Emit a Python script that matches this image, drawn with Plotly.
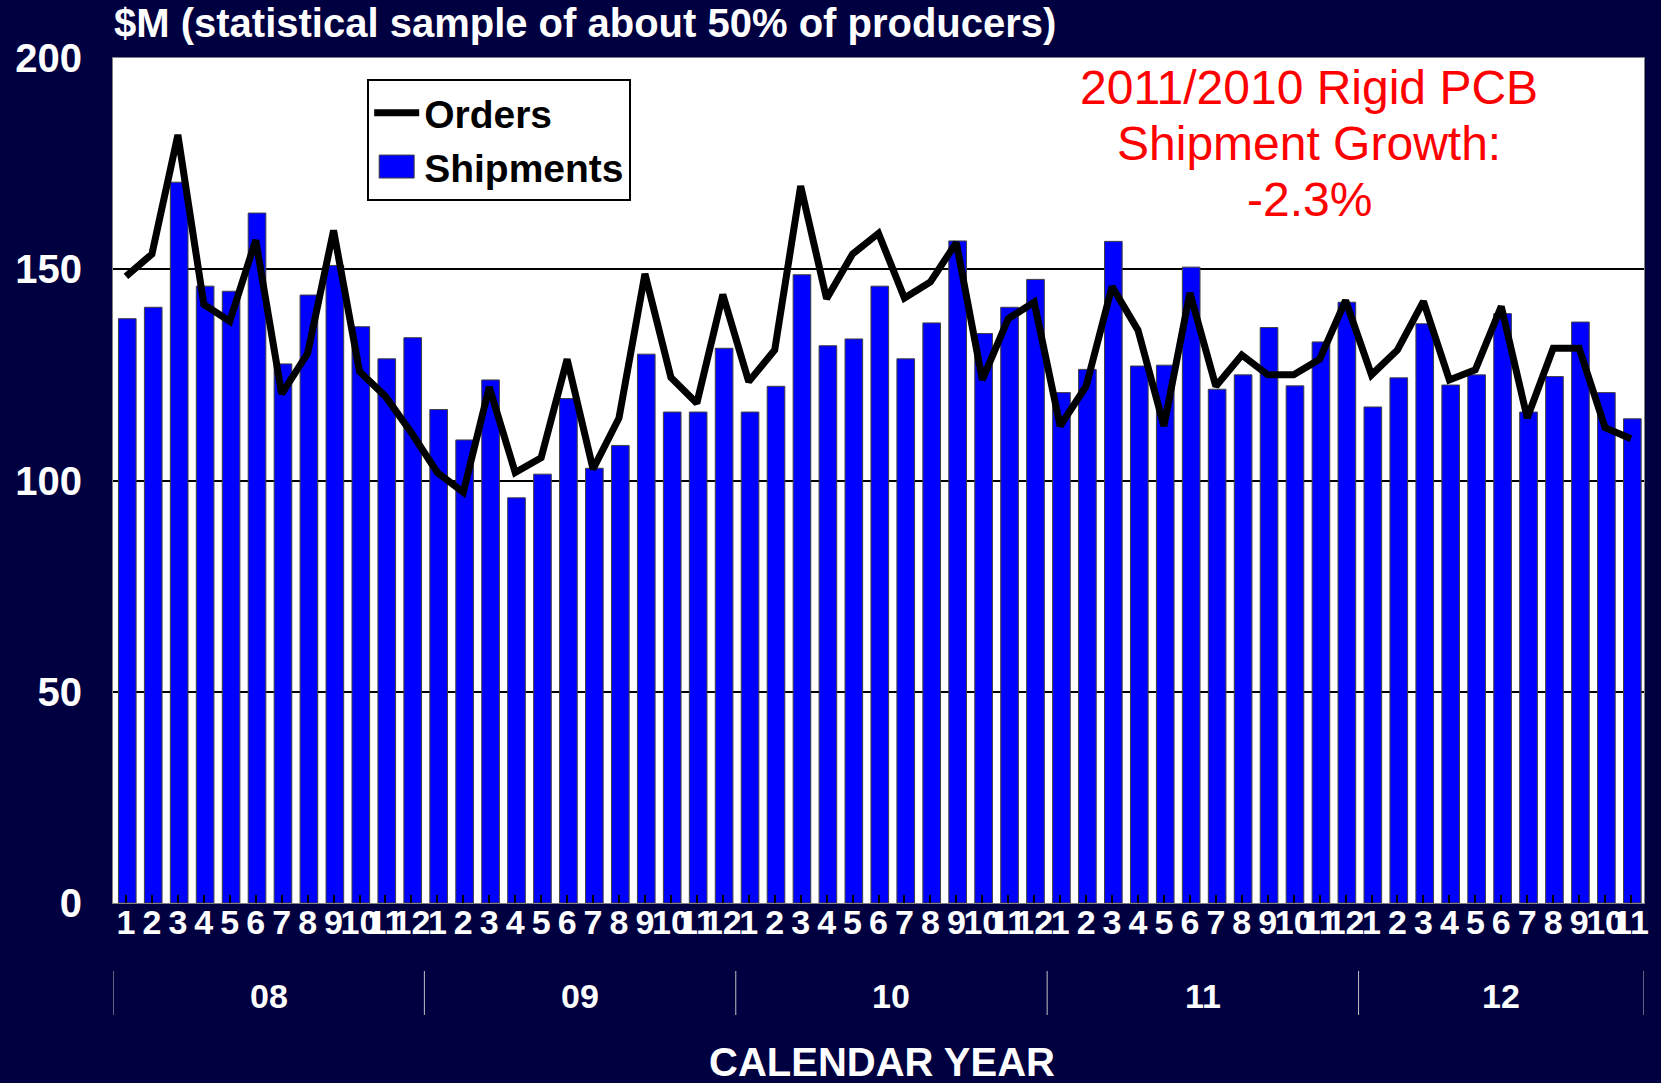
import plotly.graph_objects as go

years = ["08", "09", "10", "11", "12"]
months_per_year = [12, 12, 12, 12, 11]
month_labels = [str(m) for m in range(1, 13)]

shipments = [
    138.3, 141.0, 170.6, 146.0, 144.8, 163.3, 127.6, 143.9, 150.9, 136.4, 128.8, 133.8,
    116.8, 109.6, 123.8, 95.9, 101.5, 119.4, 102.9, 108.3, 129.9, 116.2, 116.2, 131.3,
    116.2, 122.3, 148.7, 131.9, 133.5, 146.0, 128.8, 137.3, 156.7, 134.8, 141.0, 147.6,
    120.8, 126.3, 156.6, 127.1, 127.3, 150.5, 121.6, 125.0, 136.2, 122.4, 132.8, 142.2,
    117.4, 124.3, 137.1, 122.6, 125.0, 139.5, 116.2, 124.6, 137.5, 120.8, 114.6,
]
orders = [
    148.3, 153.6, 181.8, 141.7, 137.7, 156.9, 120.5, 130.1, 159.2, 125.8, 119.9, 111.3,
    101.9, 97.2, 122.1, 101.9, 105.4, 128.7, 102.7, 114.8, 148.9, 124.4, 118.3, 144.0,
    123.4, 130.9, 169.7, 143.0, 153.6, 158.5, 143.2, 147.0, 156.3, 123.8, 138.3, 142.2,
    112.9, 122.3, 145.9, 135.6, 112.9, 144.4, 122.3, 129.7, 125.0, 125.0, 128.7, 142.6,
    125.0, 130.9, 142.4, 123.8, 126.2, 141.2, 114.8, 131.3, 131.3, 112.5, 109.9,
]
y_ticks = [0, 50, 100, 150, 200]
note_lines = ["2011/2010 Rigid PCB", "Shipment Growth:", "-2.3%"]

# month tick labels and year groups derived from the data layout
tick_text = []
for n in months_per_year:
    tick_text += month_labels[:n]
x = list(range(len(shipments)))

NAVY = "#000040"
FONT = "Liberation Sans, Arial, sans-serif"
PLOT_L, PLOT_R, PLOT_T, PLOT_B = 113, 1649, 58, 903
W, H = 1661, 1083
PH = PLOT_B - PLOT_T
PW = PLOT_R - PLOT_L


def py(pix):
    return (PLOT_B - pix) / PH


def px(pix):
    return (pix - PLOT_L) / PW


fig = go.Figure()
fig.add_trace(go.Scatter(
    x=x, y=orders, name="Orders", mode="lines",
    line=dict(color="black", width=7),
))
fig.add_trace(go.Bar(
    x=x, y=shipments, name="Shipments",
    width=0.68, offset=-0.29,
    marker=dict(color="#0000FF", line=dict(color="#404040", width=1)),
))

fig.update_layout(
    width=W, height=H,
    paper_bgcolor=NAVY, plot_bgcolor="white",
    margin=dict(l=PLOT_L, r=W - PLOT_R, t=PLOT_T, b=H - PLOT_B),
    font=dict(family=FONT, color="white"),
    title=dict(
        text="<b>$M (statistical sample of about 50% of producers)</b>",
        x=114 / W, xanchor="left", xref="container",
        y=1 - 23 / H, yanchor="middle", yref="container",
        font=dict(size=40, color="white", family=FONT),
    ),
    legend=dict(
        x=px(368), y=py(79), xanchor="left", yanchor="top",
        bgcolor="white", bordercolor="black", borderwidth=2,
        font=dict(size=39, color="black", family=FONT, weight="bold"),
        itemwidth=45,
    ),
    showlegend=True,
)

fig.update_yaxes(
    range=[0, 200], tickvals=y_ticks,
    showgrid=True, gridcolor="black", gridwidth=2,
    tickfont=dict(size=40, color="white", family=FONT, weight="bold"),
    ticklabelstandoff=22,
    showline=True, linecolor="#808080", linewidth=1, mirror=True,
    zeroline=False,
)
fig.update_xaxes(
    range=[-0.5, len(x) - 0.5],
    tickmode="array", tickvals=x, ticktext=tick_text,
    tickangle=0,
    tickfont=dict(size=34, color="white", family=FONT, weight="bold"),
    showline=True, linecolor="#808080", linewidth=1, mirror=True,
    ticks="inside", ticklen=8, tickcolor="black", tickwidth=2,
    ticklabelstandoff=-11,
    showgrid=False, zeroline=False,
)

# year group labels and dividers
start = 0
bounds = [-0.5]
for yr, n in zip(years, months_per_year):
    center = start + (n - 1) / 2
    fig.add_annotation(
        text="<b>" + yr + "</b>", xref="x", yref="paper",
        x=center, y=py(996), xanchor="center", yanchor="middle",
        showarrow=False, font=dict(size=34, color="white", family=FONT),
    )
    start += n
    bounds.append(start - 0.5)
for b in bounds:
    fig.add_shape(
        type="line", xref="x", yref="paper", x0=b, x1=b,
        y0=py(971), y1=py(1015),
        line=dict(color="#c0c0c0", width=1),
    )

fig.add_annotation(
    text="<b>CALENDAR YEAR</b>", xref="paper", yref="paper",
    x=px(885), y=py(1062), xanchor="center", yanchor="middle",
    showarrow=False, font=dict(size=40, color="white", family=FONT),
)

for i, line in enumerate(note_lines):
    fig.add_annotation(
        text=line, xref="paper", yref="paper",
        x=px(1313), y=py(88 + 55.5 * i),
        xanchor="center", yanchor="middle", showarrow=False,
        font=dict(size=48, color="#FF0000", family=FONT),
    )

post = """
document.body.style.margin='0';
document.body.style.overflow='hidden';
var entries = document.querySelectorAll('g.legend g.traces');
if (entries.length > 1) {
  var p = entries[1].querySelector('g.legendpoints path');
  if (p) { p.setAttribute('d', 'M-17.5,-11.5h35v23h-35z'); }
}
"""

fig.write_html(
    "out.html",
    config={"displayModeBar": False},
    post_script=post,
)
